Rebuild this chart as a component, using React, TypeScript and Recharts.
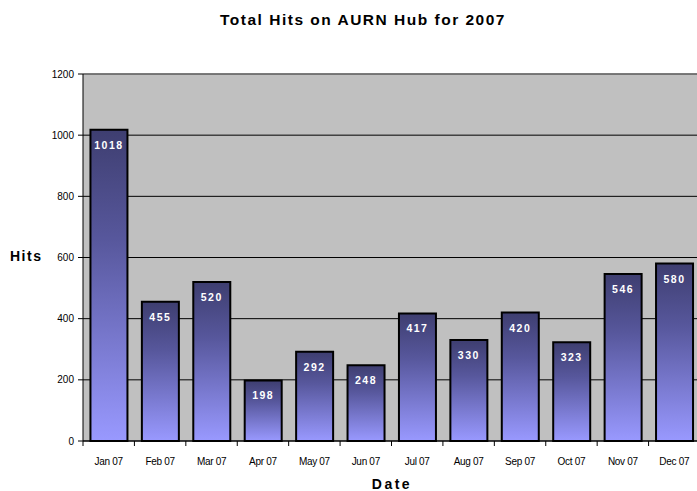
import React from 'react';
import {
  BarChart,
  Bar,
  XAxis,
  YAxis,
  CartesianGrid,
  LabelList,
  ReferenceLine,
} from 'recharts';

const months = [
  'Jan 07', 'Feb 07', 'Mar 07', 'Apr 07', 'May 07', 'Jun 07',
  'Jul 07', 'Aug 07', 'Sep 07', 'Oct 07', 'Nov 07', 'Dec 07',
];
const hits = [1018, 455, 520, 198, 292, 248, 417, 330, 420, 323, 546, 580];
const yTicks = [0, 200, 400, 600, 800, 1000, 1200];

const data = months.map((m, i) => ({ month: m, hits: hits[i] }));

const font = 'Arial, "Liberation Sans", sans-serif';
const band = 617 / 12;

// month label under the bar plus a tick mark on the left edge of each category
const MonthTick = (props: any) => {
  const { x, y, payload } = props;
  const left = x - band / 2;
  return (
    <g>
      <line x1={left} y1={y - 8} x2={left} y2={y - 3} stroke='#000' />
      <text
        x={x}
        y={y + 16}
        textAnchor='middle'
        fontSize={10}
        fontFamily={font}
        fill='#000'
        letterSpacing={-0.3}
      >
        {payload.value}
      </text>
    </g>
  );
};

export default function App() {
  return (
    <div style={{ position: 'absolute', left: 0, top: 0, width: 697, height: 491, overflow: 'hidden', background: '#fff' }}>
      <div style={{ position: 'absolute', left: 0, top: 0 }}>
        <BarChart
          width={712}
          height={491}
          data={data}
          margin={{ top: 74, right: 12, left: 0, bottom: 0 }}
          barCategoryGap='14.5%'
        >
          <defs>
            <linearGradient id='barGrad' x1='0' y1='0' x2='0' y2='1'>
              <stop offset='0%' stopColor='#3e3e70' />
              <stop offset='35%' stopColor='#57579c' />
              <stop offset='100%' stopColor='#9999ff' />
            </linearGradient>
          </defs>
          <CartesianGrid
            vertical={false}
            stroke='#000'
            fill='#c0c0c0'
            fillOpacity={1}
          />
          <ReferenceLine y={1200} stroke='#7a7a7a' strokeWidth={1.5} />
          <XAxis
            dataKey='month'
            height={50}
            axisLine={{ stroke: '#000' }}
            tickLine={false}
            tick={<MonthTick />}
            interval={0}
          />
          <YAxis
            width={83}
            domain={[0, 1200]}
            ticks={yTicks}
            interval={0}
            axisLine={{ stroke: '#000' }}
            tickLine={{ stroke: '#000' }}
            tickSize={5}
            tickMargin={4}
            tick={{ fontSize: 10, fontFamily: font, fill: '#000' }}
          />
          <Bar
            dataKey='hits'
            fill='url(#barGrad)'
            stroke='#000'
            strokeWidth={2}
            isAnimationActive={false}
          >
            <LabelList
              dataKey='hits'
              position='insideTop'
              offset={11.5}
              fill='#fff'
              fontSize={10.5}
              fontWeight='bold'
              fontFamily={font}
              letterSpacing={1.5}
            />
          </Bar>
        </BarChart>
      </div>
      <svg
        width={697}
        height={491}
        style={{ position: 'absolute', left: 0, top: 0, pointerEvents: 'none' }}
      >
        <text
          x={363}
          y={24.5}
          textAnchor='middle'
          fontFamily={font}
          fontWeight='bold'
          fontSize={15.5}
          letterSpacing={1.5}
        >
          Total Hits on AURN Hub for 2007
        </text>
        <text
          x={10}
          y={261}
          fontFamily={font}
          fontWeight='bold'
          fontSize={14}
          letterSpacing={1.5}
        >
          Hits
        </text>
        <text
          x={392}
          y={489}
          textAnchor='middle'
          fontFamily={font}
          fontWeight='bold'
          fontSize={14}
          letterSpacing={2.5}
        >
          Date
        </text>
      </svg>
    </div>
  );
}
